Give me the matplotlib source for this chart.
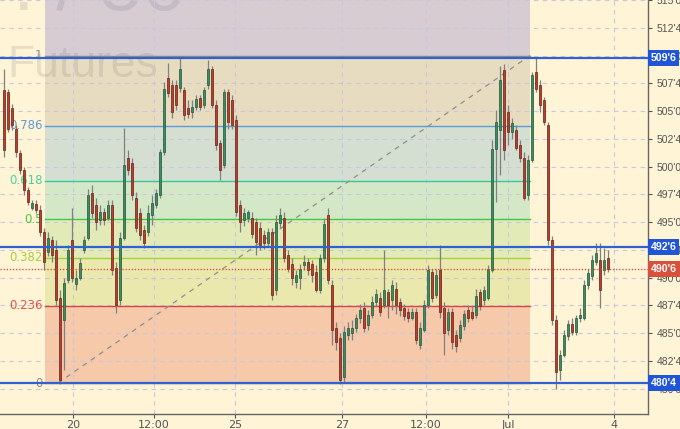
import matplotlib
matplotlib.use("Agg")
import matplotlib.pyplot as plt
import matplotlib.transforms as mtransforms
import numpy as np

# ---------------- data ----------------
opens = [506.9, 506.7, 505.3, 503.4, 501.2, 499.7, 497.9, 496.3, 496.6, 496.1,
         494.1, 492.3, 493.4, 492.5, 488.2, 486.2, 489.8, 493.4, 489.4, 490.0,
         492.5, 493.6, 497.6, 496.5, 495.2, 495.9, 495.4, 496.5, 490.9, 488.0,
         493.6, 500.8, 500.3, 497.2, 495.8, 494.3, 494.1, 495.6, 496.5, 497.4,
         501.3, 508.0, 507.3, 507.3, 507.1, 506.9, 505.3, 504.9, 505.4, 506.2,
         505.5, 507.3, 508.8, 505.5, 502.1, 500.1, 506.7, 506.0, 504.2, 496.5,
         495.2, 495.4, 495.4, 495.0, 494.5, 493.8, 493.1, 494.1, 488.9, 494.9,
         495.4, 492.0, 491.2, 489.6, 490.0, 491.1, 491.4, 491.2, 490.5, 488.9,
         491.8, 495.6, 489.3, 485.5, 484.6, 481.0, 484.8, 485.0, 485.5, 486.4,
         487.3, 485.7, 486.6, 487.8, 488.2, 487.5, 488.7, 488.0, 489.0, 487.8,
         487.3, 486.9, 486.4, 486.9, 483.9, 485.3, 487.5, 490.5, 488.4, 490.7,
         487.3, 485.3, 486.9, 484.8, 484.6, 485.6, 487.1, 486.9, 486.6, 488.7,
         488.0, 488.2, 490.7, 501.6, 503.3, 508.7, 504.9, 503.1, 503.3, 501.9,
         500.8, 497.4, 500.6, 508.5, 507.3, 506.0, 503.7, 493.4, 486.2, 481.7,
         483.0, 484.7, 485.8, 485.1, 486.4, 486.4, 489.3, 490.1, 491.4, 491.6,
         490.7, 491.8]
highs = [508.8, 507.0, 505.6, 503.7, 501.5, 500.0, 498.2, 497.0, 497.0, 496.5,
         494.5, 494.1, 493.7, 493.4, 488.9, 490.0, 492.9, 496.3, 490.7, 491.8,
         493.7, 498.0, 498.3, 497.2, 496.5, 496.3, 497.0, 497.0, 491.4, 494.1,
         503.5, 501.5, 500.8, 497.7, 496.3, 494.7, 496.5, 497.4, 498.0, 501.6,
         507.6, 509.3, 507.8, 507.8, 510.0, 507.2, 506.0, 506.0, 506.4, 506.4,
         507.2, 509.6, 509.1, 506.0, 502.4, 507.0, 507.0, 506.4, 504.6, 497.0,
         496.3, 496.1, 495.9, 495.4, 495.0, 494.3, 494.5, 494.5, 495.6, 496.3,
         495.9, 492.5, 491.8, 490.7, 491.2, 492.0, 491.8, 491.6, 491.1, 492.1,
         495.4, 496.3, 489.8, 486.0, 485.0, 485.6, 486.0, 486.2, 486.7, 487.6,
         487.8, 487.1, 488.3, 489.0, 488.7, 492.5, 489.0, 489.8, 489.6, 488.2,
         487.6, 487.3, 487.3, 487.3, 486.0, 488.0, 491.1, 490.8, 490.8, 492.9,
         487.8, 487.3, 487.3, 485.3, 486.2, 487.1, 487.5, 487.4, 489.0, 489.0,
         489.2, 491.1, 502.4, 505.1, 509.1, 509.2, 505.5, 504.4, 503.7, 502.4,
         501.3, 501.0, 508.5, 509.75, 507.8, 506.3, 504.0, 493.7, 486.6, 483.5,
         485.3, 486.2, 486.4, 486.6, 487.3, 489.8, 490.8, 492.0, 493.1, 493.1,
         492.7, 492.5]
lows = [500.9, 503.1, 503.3, 500.9, 499.3, 497.4, 496.5, 496.1, 495.8, 493.7,
        490.7, 491.9, 491.4, 487.5, 480.4, 481.7, 489.5, 489.6, 488.9, 489.8,
        492.2, 493.4, 495.4, 494.3, 494.7, 494.7, 495.2, 490.2, 486.8, 487.5,
        493.4, 499.2, 497.0, 494.1, 493.4, 492.7, 493.7, 494.7, 496.3, 497.2,
        501.0, 506.3, 504.4, 505.1, 506.7, 504.2, 504.4, 504.4, 505.1, 505.1,
        505.3, 507.0, 505.3, 501.5, 498.8, 499.9, 503.4, 503.4, 495.5, 494.1,
        494.6, 495.0, 493.6, 492.0, 492.5, 492.6, 492.8, 488.0, 488.4, 494.5,
        491.4, 490.5, 489.3, 489.1, 489.0, 490.7, 490.2, 489.6, 488.7, 488.6,
        491.4, 489.4, 483.9, 483.5, 480.4, 480.5, 484.4, 484.4, 485.1, 485.9,
        485.1, 485.3, 486.4, 487.4, 486.5, 487.3, 486.4, 487.1, 486.7, 486.5,
        486.2, 486.0, 486.2, 484.0, 483.6, 485.1, 487.3, 487.8, 488.2, 486.4,
        483.0, 484.8, 483.6, 483.3, 484.2, 485.3, 486.0, 486.2, 486.4, 487.1,
        487.5, 488.0, 490.5, 496.8, 499.2, 500.6, 501.9, 502.5, 501.5, 500.4,
        497.0, 497.0, 500.4, 506.7, 504.9, 503.7, 492.9, 485.7, 480.0, 480.8,
        482.8, 484.4, 484.8, 484.8, 486.0, 486.2, 489.0, 489.8, 491.1, 487.3,
        490.2, 490.5]
closes = [501.5, 503.4, 503.7, 501.3, 499.7, 497.9, 496.8, 496.7, 496.1, 494.1,
          491.4, 493.6, 492.0, 488.0, 480.8, 489.5, 492.5, 490.0, 490.0, 491.3,
          493.4, 497.4, 495.8, 495.0, 495.9, 495.2, 496.5, 490.7, 487.5, 493.6,
          500.1, 499.7, 497.4, 494.5, 493.8, 493.1, 495.8, 496.7, 497.6, 501.3,
          507.0, 506.6, 504.9, 505.5, 508.8, 504.6, 504.7, 505.4, 506.1, 505.4,
          506.9, 508.8, 505.5, 501.9, 499.7, 506.7, 504.0, 503.7, 495.9, 495.0,
          495.8, 495.9, 493.9, 493.2, 492.9, 493.1, 494.1, 488.4, 495.0, 495.6,
          491.8, 490.8, 490.0, 490.2, 490.8, 491.4, 490.7, 490.2, 488.9, 491.8,
          494.8, 489.8, 485.3, 484.2, 480.8, 485.1, 485.5, 485.5, 486.4, 487.1,
          485.5, 486.6, 487.8, 488.5, 486.9, 488.9, 487.5, 489.3, 487.5, 487.1,
          486.5, 486.4, 486.9, 484.4, 485.5, 487.5, 490.7, 488.2, 490.2, 486.9,
          485.0, 486.9, 484.2, 483.8, 485.7, 486.7, 486.4, 486.4, 488.3, 487.4,
          488.9, 490.8, 501.6, 504.0, 507.8, 501.5, 503.1, 503.9, 501.7, 500.8,
          497.2, 500.6, 508.2, 507.0, 505.5, 504.0, 493.4, 486.2, 481.5, 483.0,
          484.8, 485.8, 485.1, 486.4, 486.6, 489.3, 490.4, 491.6, 492.2, 488.9,
          491.6, 490.75]

tick_pos = [17.25, 37.5, 57.75, 84.5, 105.5, 126, 152.5]
tick_labels = ["20", "12:00", "25", "27", "12:00", "Jul", "4"]

fib_low, fib_high = 480.5, 510.0
fib_start, fib_end = 10.25, 131.5
fib_anchor_low_x, fib_anchor_high_x = 13.5, 131.5
fib_levels = [1, 0.786, 0.618, 0.5, 0.382, 0.236, 0]
fib_labels = ["1", "0.786", "0.618", "0.5", "0.382", "0.236", "0"]
fib_line_colors = ["#8c8c8c", "#5b9bd5", "#35c99a", "#3fc93f", "#a6cf3c", "#d9463a", "#8c8c8c"]
fib_label_colors = ["#8c8c8c", "#5b9bd5", "#49d1a6", "#3fc93f", "#a6cf3c", "#e0504a", "#8c8c8c"]
fib_band_colors = ["#e8dcc0", "#d5dfd1", "#d4e8c8", "#e2ebb8", "#ebe8ae", "#f5c9aa"]
above_band_color = "#d6ccd2"

hlines = [509.75, 492.75, 480.5]
hline_labels = ["509'6", "492'6", "480'4"]
last_price = 490.75
last_label = "490'6"

ytick_vals = [480.0, 482.5, 485.0, 487.5, 490.0, 492.5, 495.0, 497.5, 500.0,
              502.5, 505.0, 507.5, 510.0, 512.5, 515.0]

# ---------------- figure ----------------
BG = "#fff4d6"
fig = plt.figure(figsize=(6.8, 4.29), dpi=100, facecolor=BG)
ax = fig.add_axes([0, 15 / 429, 648 / 680, 414 / 429], facecolor=BG)
ax.set_xlim(-1, 161)
ax.set_ylim(477.71, 514.97)

# watermark
wm = (0.42, 0.42, 0.48, 0.16)
ax.text(0.012, 0.815, "Futures", transform=ax.transAxes, fontsize=32,
        family="Liberation Sans", color=wm, zorder=0.8)
ax.text(0.02, 0.975, ". / 50", transform=ax.transAxes, fontsize=56,
        family="Liberation Sans", color=wm, zorder=0.8)

# fib bands
levels_price = [fib_low + l * (fib_high - fib_low) for l in fib_levels]
ax.fill_between([fib_start, fib_end], fib_high, 520, color=above_band_color, zorder=0.5, lw=0)
for k in range(len(fib_levels) - 1):
    ax.fill_between([fib_start, fib_end], levels_price[k + 1], levels_price[k],
                    color=fib_band_colors[k], zorder=0.5, lw=0)

# grid
for yv in ytick_vals:
    ax.axhline(yv, color="#c9c7dd", lw=0.8, ls=(0, (4, 4)), zorder=1)
for xv in tick_pos:
    ax.axvline(xv, color="#c9c7dd", lw=0.8, ls=(0, (4, 4)), zorder=1)

# fib lines + labels
for p, lab, lc, tc in zip(levels_price, fib_labels, fib_line_colors, fib_label_colors):
    ax.plot([fib_start, fib_end], [p, p], color=lc, lw=1.0, zorder=1.5)
    ax.text(fib_start - 0.6, p, lab, color=tc, fontsize=8.5, ha="right", va="center",
            zorder=1.6)

# diagonal trend
ax.plot([fib_anchor_low_x, fib_anchor_high_x], [fib_low, fib_high], color="#8e8e8e",
        lw=0.9, ls=(0, (4, 4)), zorder=1.7)

# candles
x = np.arange(len(closes))
o = np.array(opens); h = np.array(highs); l = np.array(lows); c = np.array(closes)
up = c >= o
ax.vlines(x, l, h, color="#808080", lw=0.9, zorder=2)
body_lo = np.minimum(o, c)
body_h = np.maximum(np.abs(c - o), 0.12)
ax.bar(x[up], body_h[up], bottom=body_lo[up], width=0.72, color="#3b8c60",
       edgecolor="#24563a", linewidth=0.5, zorder=3)
ax.bar(x[~up], body_h[~up], bottom=body_lo[~up], width=0.72, color="#c23a2a",
       edgecolor="#5e2418", linewidth=0.5, zorder=3)

# horizontal blue lines
for p in hlines:
    ax.axhline(p, color="#2f62d0", lw=1.6, zorder=4)
ax.axhline(last_price, color="#e23a2a", lw=0.9, ls=(0, (1, 1.5)), zorder=4)

# axes styling
for s in ["left", "top"]:
    ax.spines[s].set_visible(False)
for s in ["right", "bottom"]:
    ax.spines[s].set_color("#666666")
    ax.spines[s].set_linewidth(1.0)
ax.yaxis.tick_right()
ax.set_yticks(ytick_vals)

def fmt(v):
    whole = int(np.floor(v))
    eighth = int(round((v - whole) * 8))
    return f"{whole}'{eighth}"

ax.set_yticklabels([fmt(v) for v in ytick_vals], family="Liberation Sans")
ax.set_xticks(tick_pos)
ax.set_xticklabels(tick_labels)
ax.tick_params(axis="y", colors="#555555", labelsize=7.5, length=3, pad=3, width=0.8)
ax.tick_params(axis="x", colors="#555555", labelsize=8, length=3, pad=1, width=0.8)

# price tags
trans = mtransforms.blended_transform_factory(ax.transAxes, ax.transData)
tag_kw = dict(transform=trans, fontsize=7.6, fontweight="bold", color="white",
              family="Liberation Sans", ha="left", va="center", clip_on=False, zorder=10)
for p, lab in zip(hlines, hline_labels):
    ax.text(1.004, p, lab, bbox=dict(boxstyle="square,pad=0.28", fc="#1f55d6", ec="none"),
            **tag_kw)
ax.text(1.004, last_price, last_label,
        bbox=dict(boxstyle="square,pad=0.28", fc="#d9503c", ec="none"), **tag_kw)

fig.savefig("out.png", dpi=100, facecolor=BG)
